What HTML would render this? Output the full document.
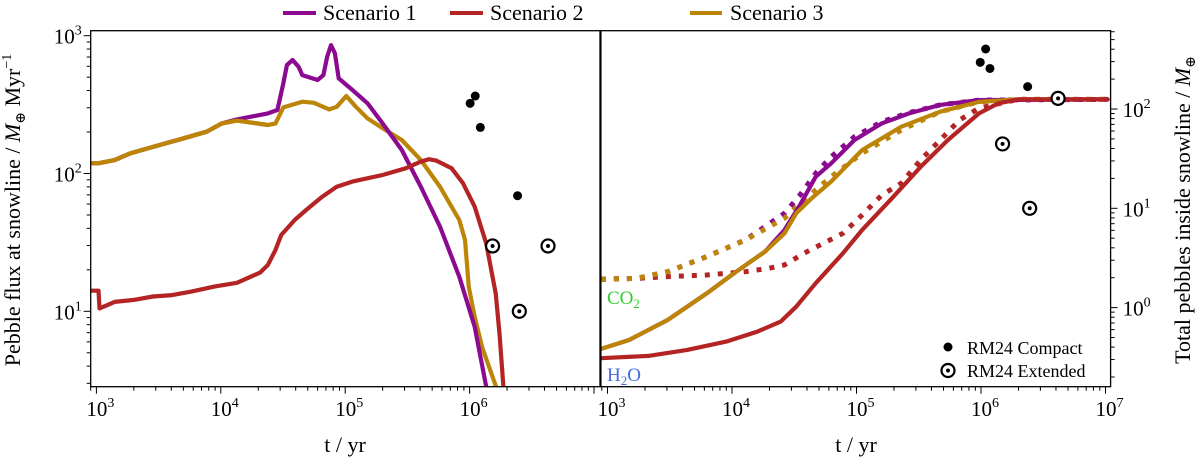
<!DOCTYPE html>
<html><head><meta charset="utf-8">
<style>
html,body{margin:0;padding:0;background:#fff;}
svg{display:block;}
svg text{font-family:"Liberation Serif","DejaVu Serif",serif;}
</style></head>
<body>
<svg id="chart" width="1200" height="463" viewBox="0 0 1200 463" xmlns="http://www.w3.org/2000/svg" font-family="Liberation Serif, serif">
<defs>
<clipPath id="clipL"><rect x="90.7" y="30.7" width="509.3" height="356"/></clipPath>
<clipPath id="clipR"><rect x="600.9" y="30.7" width="509.7" height="356"/></clipPath>
</defs>
<g id="legend">
<g><line x1="283" y1="13" x2="316" y2="13" stroke="#8b0a8f" stroke-width="4"/><text x="323" y="20" font-size="22">Scenario 1</text></g>
<g><line x1="450" y1="13" x2="483" y2="13" stroke="#b42424" stroke-width="4"/><text x="490" y="20" font-size="22">Scenario 2</text></g>
<g><line x1="690" y1="13" x2="722" y2="13" stroke="#bd8508" stroke-width="4"/><text x="730" y="20" font-size="22">Scenario 3</text></g>
</g>
<g id="left"></g>
<g id="right"></g>
<text transform="translate(20,210) rotate(-90)" text-anchor="middle" font-size="22">Pebble flux at snowline / <tspan font-style="italic">M</tspan><tspan font-size="14" dy="5">⊕</tspan><tspan dy="-5"> Myr</tspan><tspan font-size="14" dy="-9">−1</tspan></text>
<text transform="translate(1190,210) rotate(-90)" text-anchor="middle" font-size="22">Total pebbles inside snowline / <tspan font-style="italic">M</tspan><tspan font-size="14" dy="5">⊕</tspan></text>
<text x="345" y="452" text-anchor="middle" font-size="22">t / yr</text>
<text x="856" y="452" text-anchor="middle" font-size="22">t / yr</text>
<text x="607" y="304" font-size="19" fill="#33cc33">CO<tspan font-size="13" dy="4">2</tspan></text>
<text x="607" y="381" font-size="19" fill="#4169e1">H<tspan font-size="13" dy="4">2</tspan><tspan dy="-4">O</tspan></text>
<g>
<circle cx="948" cy="347" r="4.5" fill="#000"/>
<text x="967" y="354" font-size="18">RM24 Compact</text>
<circle cx="948" cy="370.5" r="6.5" fill="none" stroke="#000" stroke-width="2.2"/><circle cx="948" cy="370.5" r="2" fill="#000"/>
<text x="967" y="377" font-size="18">RM24 Extended</text>
</g>
</svg>
<script>
// ---- Left panel data: pebble flux (M_earth / Myr) ----
const s3FluxT = [900,1060,1400,1870,2850,5030,7700,10200,13500,23900,27500,31800,45200,56000,74300,85500,102000,122000,151000,200000,285000,406000,579000,826000,918000,986000,1.10e6,1.26e6,1.63e6];
const s3Flux  = [119,119,125,140,156,180,201,231,242,225,231,302,332,326,292,305,365,305,251,213,175,125,80,46,33,15,9.1,5.5,2.84];
const s1FluxT = [900,1060,1400,1870,2850,5030,7700,10200,13500,23900,28500,31800,34000,37800,42200,45200,60000,66800,71700,76900,82600,88700,114000,151000,200000,285000,406000,579000,826000,1.10e6,1.36e6];
const s1Flux  = [119,119,125,140,156,180,201,231,247,273,289,451,612,666,595,518,477,518,705,855,745,490,404,323,231,148,80,41,17.8,7.7,2.84];
const s2FluxT = [900,1040,1060,1400,2000,2850,4060,5800,8870,13500,20700,23900,27500,30600,39200,48500,64400,85500,114000,200000,306000,406000,469000,540000,716000,887000,1.10e6,1.36e6,1.62e6,1.74e6,1.87e6];
const s2Flux  = [14.1,14.1,10.5,11.7,12.1,12.8,13.1,13.9,15.1,16.1,19.1,21.7,27.9,35.8,45.9,54.3,67.1,80.2,87.3,97.5,109,122,127,124,109,84.7,57.4,31.1,13.5,6.9,2.84];
const compactLT = [1.01e6,1.11e6,1.22e6,2.43e6];
const compactLV = [323,365,216,69];
const extendedLT = [1.53e6,4.27e6,2.51e6];
const extendedLV = [29.8,29.8,10];
// ---- Right panel data: total pebbles inside snowline (M_earth) ----
const s3TotT = [885,1490,3050,6260,10400,18400,26400,32800,43700,62600,111000,229000,470000,964000,1.98e6,1.04e7];
const s3Tot  = [0.384,0.472,0.751,1.39,2.22,3.66,5.60,8.91,12.6,18.6,38.6,66.4,94,118,125,125];
const s1TotT = [885,1490,3050,6260,10400,18400,26400,35200,47000,62600,96400,160000,264000,470000,964000,1.04e7];
const s1Tot  = [0.384,0.472,0.751,1.39,2.22,3.66,6.05,10.8,20.8,28.4,48.7,71.7,90.4,110,123,125];
const s2TotT = [885,2130,4370,8980,16000,24600,32800,47000,77800,111000,198000,328000,542000,964000,1.38e6,1.98e6,1.04e7];
const s2Tot  = [0.309,0.326,0.375,0.455,0.573,0.723,1.02,1.76,3.52,6.05,13.1,26.2,48.7,90.4,114,125,125];
const s3CO2T = [885,1710,3050,6260,12800,26400,35200,62600,111000,229000,470000,964000,1.98e6,1.04e7];
const s3CO2  = [1.93,1.97,2.30,3.26,4.80,7.93,11.2,20.8,35.8,61.5,94,118,125,125];
const s1CO2T = [885,1710,3050,6260,12800,18400,26400,35200,47000,62600,96400,160000,264000,470000,964000,1.04e7];
const s1CO2  = [1.93,1.97,2.30,3.26,4.80,6.53,8.91,13.6,22.5,33.1,52.6,74.5,91.8,110,123,125];
const s2CO2T = [885,1710,3050,6260,12800,19800,26400,37800,54200,77800,111000,160000,229000,328000,470000,673000,964000,1.98e6,1.04e7];
const s2CO2  = [1.93,1.97,2.05,2.13,2.30,2.49,2.69,3.52,4.44,5.60,8.57,13.6,17.9,30.7,48.7,77.4,102,125,125];
const compactRT = [986000,1.09e6,1.18e6,2.37e6];
const compactRV = [295,402,256,168];
const extendedRT = [1.49e6,2.46e6,4.16e6];
const extendedRV = [44.5,10,128];
const leftXTickExps = [3,4,5,6];
const rightXTickExps = [3,4,5,6,7];
const leftYTickExps = [1,2,3];
const rightYTickExps = [0,1,2];

const NS="http://www.w3.org/2000/svg";
const PURPLE="#8b0a8f", RED="#b42424", GOLD="#bd8508";
function mk(tag, attrs, parent){const e=document.createElementNS(NS,tag);for(const k in attrs)e.setAttribute(k,attrs[k]);parent.appendChild(e);return e;}
function logAxis(p0,v0,pxPerDecade,dir){return v=>p0+dir*(Math.log10(v)-v0)*pxPerDecade;}

const L={x0:90.7,x1:600,y0:30.7,y1:386.7};
const R={x0:600.9,x1:1110.6,y0:30.7,y1:386.7};
const lx=logAxis(96.4,3,124.4,1), ly=logAxis(35.7,3,137.8,-1);
const rx=logAxis(607.5,3,124.5,1), ry=logAxis(109,2,99.3,-1);
const gl=document.getElementById('left'), gr=document.getElementById('right');

function drawLine(g,T,V,fx,fy,color,dashed,clip,name){
  const d=T.map((t,i)=>(i?'L':'M')+fx(t).toFixed(1)+' '+fy(V[i]).toFixed(1)).join(' ');
  const p=mk('path',{d:d,fill:'none',stroke:color,'stroke-width':dashed?5:4.2,'stroke-linejoin':'round','clip-path':'url(#'+clip+')'},g);
  if(dashed){p.setAttribute('stroke-dasharray','5 8');}else{p.setAttribute('stroke-linecap','round');}
  
  
}
function drawPoints(g,T,V,fx,fy,ext,name){
  T.forEach((t,i)=>{
    const cx=fx(t), cy=fy(V[i]);
    const grp=mk('g',{},g);
    
    
    if(ext){mk('circle',{cx:cx,cy:cy,r:6.5,fill:'#fff',stroke:'#000','stroke-width':2.2},grp);mk('circle',{cx:cx,cy:cy,r:2,fill:'#000'},grp);}
    else mk('circle',{cx:cx,cy:cy,r:4.5,fill:'#000'},grp);
  });
}
function tickLabel(g,x,y,exp,anchor){
  const t=mk('text',{x:x,y:y,'font-size':21,'text-anchor':anchor},g);
  t.textContent='10';
  const s=mk('tspan',{dy:-9,'font-size':14},t); s.textContent=String(exp);
  
  
}
function xAxis(g,P,fx,exps){
  for(let e=2;e<8;e++)for(let m=1;m<10;m++){
    const v=m*Math.pow(10,e), x=fx(v);
    if(x<P.x0-0.5||x>P.x1+0.5)continue;
    mk('line',{x1:x,y1:P.y1,x2:x,y2:P.y1+(m===1?7:4),stroke:'#000','stroke-width':1},g);
  }
  exps.forEach(e=>{const x=fx(Math.pow(10,e)); tickLabel(g,x+4,416,e,'middle');});
}
function yAxis(g,P,fy,exps,side){
  const xs=side==='L'?P.x0:P.x1, dir=side==='L'?-1:1;
  for(let e=-1;e<4;e++)for(let m=1;m<10;m++){
    const v=m*Math.pow(10,e), y=fy(v);
    if(y<P.y0-0.5||y>P.y1+0.5)continue;
    mk('line',{x1:xs,y1:y,x2:xs+dir*(m===1?7:4),y2:y,stroke:'#000','stroke-width':1},g);
  }
  exps.forEach(e=>{const y=fy(Math.pow(10,e)); if(side==='L')tickLabel(g,P.x0-9,y+8,e,'end'); else tickLabel(g,P.x1+12,y+8,e,'start');});
}

// Left panel
drawLine(gl,s3FluxT,s3Flux,lx,ly,GOLD,false,'clipL','scenario-3-flux-line');
drawLine(gl,s1FluxT,s1Flux,lx,ly,PURPLE,false,'clipL','scenario-1-flux-line');
drawLine(gl,s3FluxT.slice(0,11),s3Flux.slice(0,11),lx,ly,GOLD,false,'clipL','scenario-3-flux-early');
drawLine(gl,s2FluxT,s2Flux,lx,ly,RED,false,'clipL','scenario-2-flux-line');
drawPoints(gl,compactLT,compactLV,lx,ly,false,'rm24-compact-point');
drawPoints(gl,extendedLT,extendedLV,lx,ly,true,'rm24-extended-point');
xAxis(gl,L,lx,leftXTickExps); yAxis(gl,L,ly,leftYTickExps,'L');
const fL=mk('rect',{x:L.x0,y:L.y0,width:L.x1-L.x0,height:L.y1-L.y0,fill:'none',stroke:'#000','stroke-width':1.3},gl);



// Right panel
drawLine(gr,s2CO2T,s2CO2,rx,ry,RED,true,'clipR','scenario-2-co2-dotted');
drawLine(gr,s1CO2T,s1CO2,rx,ry,PURPLE,true,'clipR','scenario-1-co2-dotted');
drawLine(gr,s3CO2T,s3CO2,rx,ry,GOLD,true,'clipR','scenario-3-co2-dotted');
drawLine(gr,s1TotT,s1Tot,rx,ry,PURPLE,false,'clipR','scenario-1-h2o-line');
drawLine(gr,s3TotT,s3Tot,rx,ry,GOLD,false,'clipR','scenario-3-h2o-line');
drawLine(gr,s2TotT,s2Tot,rx,ry,RED,false,'clipR','scenario-2-h2o-line');
drawPoints(gr,compactRT,compactRV,rx,ry,false,'rm24-compact-point');
drawPoints(gr,extendedRT,extendedRV,rx,ry,true,'rm24-extended-point');
xAxis(gr,R,rx,rightXTickExps); yAxis(gr,R,ry,rightYTickExps,'R');
const fR=mk('rect',{x:R.x0,y:R.y0,width:R.x1-R.x0,height:R.y1-R.y0,fill:'none',stroke:'#000','stroke-width':1.3},gr);


</script>
</body></html>
